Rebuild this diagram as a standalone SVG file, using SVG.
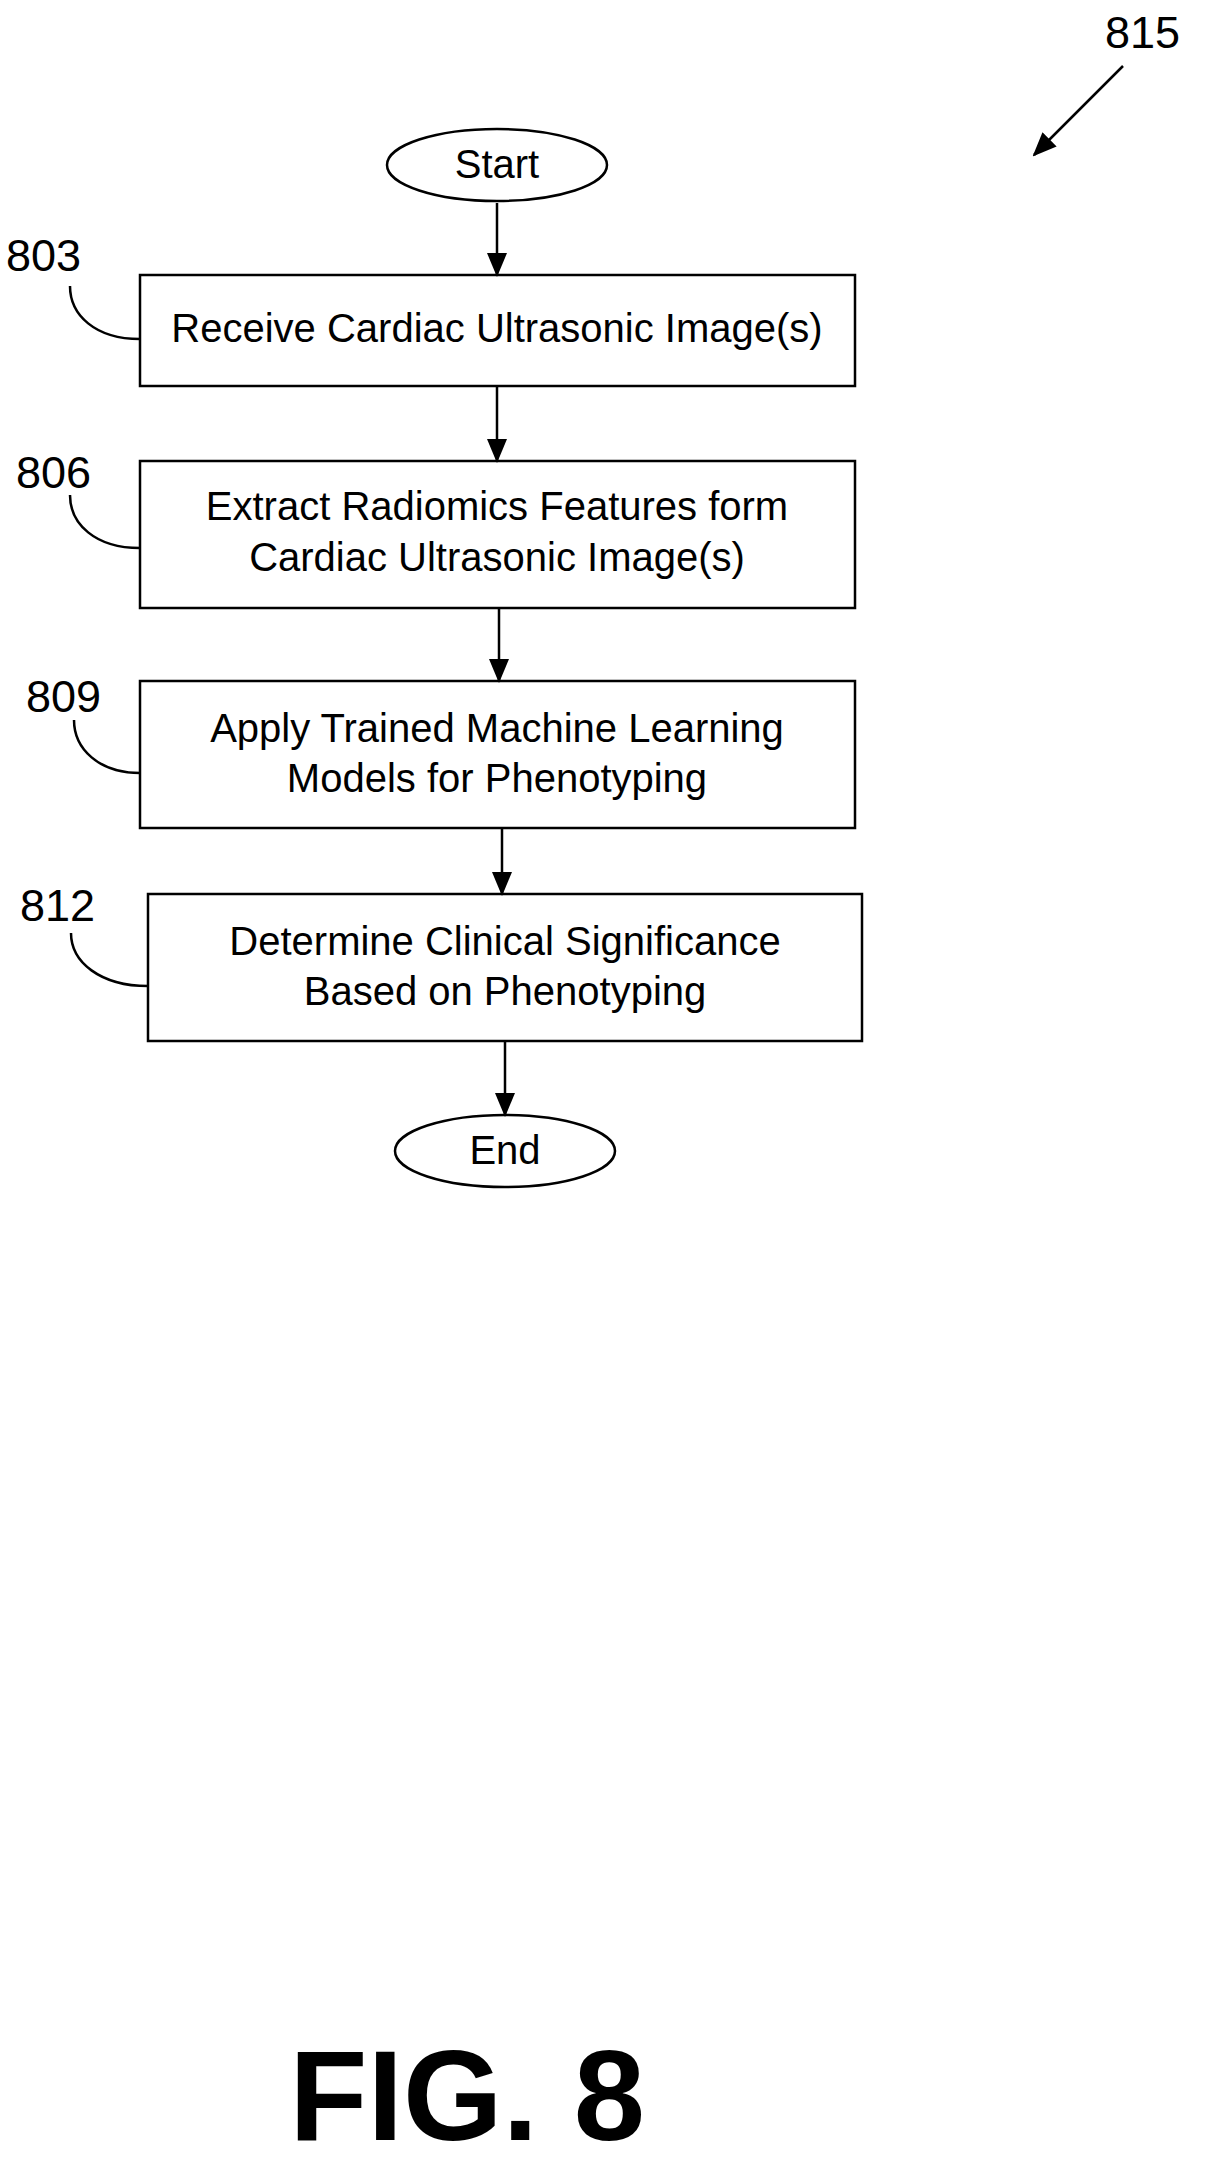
<svg xmlns="http://www.w3.org/2000/svg" width="1208" height="2171" viewBox="0 0 1208 2171">
<style>
.s{fill:#fff;stroke:#000;stroke-width:2.5}
.t{font-family:"Liberation Sans",Arial,sans-serif;font-size:40px;text-anchor:middle;fill:#000}
.l{font-family:"Liberation Sans",Arial,sans-serif;font-size:45px;fill:#000}
.c{fill:none;stroke:#000;stroke-width:2.5}
</style>
<defs>
<marker id="b" markerWidth="24" markerHeight="24" refX="22" refY="12" orient="auto" markerUnits="userSpaceOnUse" viewBox="0 0 24 24"><path d="M0,2 L24,12 L0,22 z"/></marker></defs>
<rect width="1208" height="2171" fill="#fff"/>
<g id="start"><ellipse class="s" cx="497" cy="165" rx="110" ry="36"/><text class="t" x="497" y="178">Start</text></g>
<g id="n803"><rect class="s" x="140" y="275" width="715" height="111"/><text class="t" x="497" y="342">Receive Cardiac Ultrasonic Image(s)</text><text class="l" x="6" y="271">803</text><path class="c" d="M70,286 C70,315 95,339 140,339"/></g>
<g id="n806"><rect class="s" x="140" y="461" width="715" height="147"/><text class="t" x="497" y="520">Extract Radiomics Features form</text><text class="t" x="497" y="571">Cardiac Ultrasonic Image(s)</text><text class="l" x="16" y="488">806</text><path class="c" d="M70,495 C70,524 95,548 140,548"/></g>
<g id="n809"><rect class="s" x="140" y="681" width="715" height="147"/><text class="t" x="497" y="742">Apply Trained Machine Learning</text><text class="t" x="497" y="792">Models for Phenotyping</text><text class="l" x="26" y="712">809</text><path class="c" d="M74,720 C74,749 99,773 140,773"/></g>
<g id="n812"><rect class="s" x="148" y="894" width="714" height="147"/><text class="t" x="505" y="955">Determine Clinical Significance</text><text class="t" x="505" y="1005">Based on Phenotyping</text><text class="l" x="20" y="921">812</text><path class="c" d="M71,933 C71,962 100,986 148,986"/></g>
<g id="end"><ellipse class="s" cx="505" cy="1151" rx="110" ry="36"/><text class="t" x="505" y="1164">End</text></g>
<g id="ref815"><text class="l" x="1105" y="48">815</text></g>
<g id="connectors">
<line class="c" x1="497" y1="203" x2="497" y2="275" marker-end="url(#b)"/>
<line class="c" x1="497" y1="386" x2="497" y2="461" marker-end="url(#b)"/>
<line class="c" x1="499" y1="608" x2="499" y2="681" marker-end="url(#b)"/>
<line class="c" x1="502" y1="828" x2="502" y2="894" marker-end="url(#b)"/>
<line class="c" x1="505" y1="1041" x2="505" y2="1115" marker-end="url(#b)"/>
<line class="c" x1="1123" y1="66" x2="1034" y2="155" marker-end="url(#b)"/>
</g>
<text x="467" y="2140" font-family="Liberation Sans,Arial,sans-serif" font-size="128" font-weight="bold" text-anchor="middle">FIG. 8</text>
</svg>
